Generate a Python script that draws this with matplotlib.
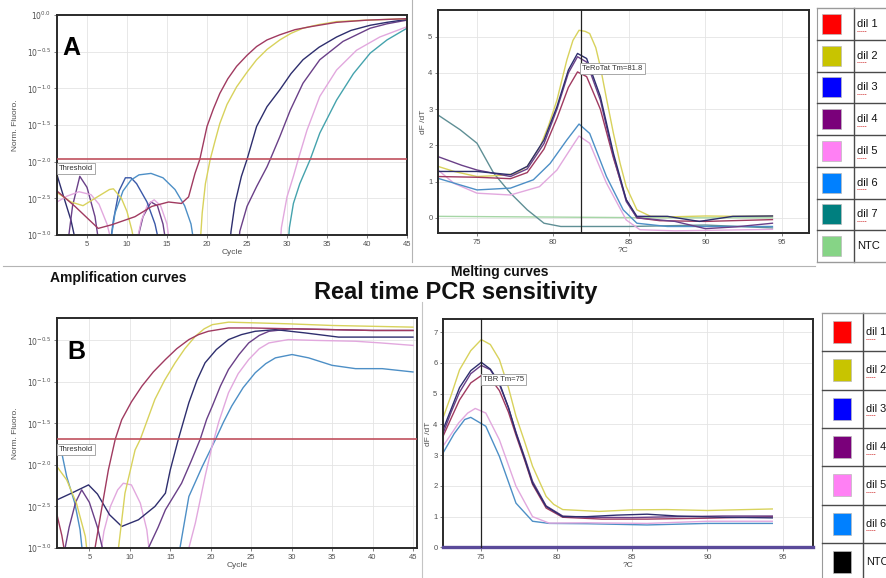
import numpy as np
import matplotlib
matplotlib.use('Agg')
import matplotlib.pyplot as plt
from matplotlib.patches import Rectangle
from matplotlib.ticker import NullLocator

W, H = 887, 578
plt.rcParams['font.family'] = ['Liberation Sans', 'DejaVu Sans']
NARROW = ['Liberation Sans Narrow', 'Liberation Sans', 'DejaVu Sans']

# ---------------- data ----------------
# Panel A, amplification: cycle vs log10(norm. fluoro)
a_dil1_cyc = [1.25, 3.5, 6.4, 8.1, 11, 13.1, 15.2, 16.8, 17.7, 18.5, 19.1, 20, 20.8, 21.6, 22.6,
              23.7, 25, 26.2, 27.5, 29.1, 31, 32.9, 36.2, 40, 45]
a_dil1_log = [-2.4, -2.61, -2.91, -2.86, -2.75, -2.61, -2.55, -2.57, -2.48, -2.16, -1.97, -1.52,
              -1.28, -1.07, -0.87, -0.7, -0.55, -0.43, -0.34, -0.27, -0.2, -0.16, -0.1, -0.07, -0.05]
a_dil2_cyc = [1.25, 3, 4.5, 6, 7.8, 8.3, 9.3, 10, 10.6, 11.1, np.nan,
              19.1, 19.4, 19.8, 20.4, 21, 21.6, 22.5, 23.7, 25, 26.2, 27.5, 29.1, 30.5, 32, 34, 36.2, 40, 45]
a_dil2_log = [-2.42, -2.55, -2.6, -2.5, -2.38, -2.37, -2.5, -2.68, -2.93, -3.2, np.nan,
              -3.2, -2.7, -2.3, -1.97, -1.72, -1.48, -1.22, -0.98, -0.78, -0.61, -0.47, -0.34, -0.25,
              -0.18, -0.13, -0.09, -0.07, -0.05]
a_dil3_cyc = [22.8, 23, 23.5, 24.3, 25, 26.2, 27.5, 29.1, 30.5, 32, 34, 36.2, 38, 40.4, 42.5, 45]
a_dil3_log = [-3.2, -2.95, -2.57, -2.2, -1.97, -1.52, -1.25, -1.02, -0.8, -0.61, -0.44, -0.3,
              -0.21, -0.14, -0.1, -0.06]
a_dil4_cyc = [23.9, 24.1, 25, 26.2, 27.5, 27.9, 29.1, 30.4, 32, 34.1, 37, 40.4, 42.5, 45]
a_dil4_log = [-3.2, -2.95, -2.61, -2.34, -2.07, -1.97, -1.66, -1.3, -0.93, -0.61, -0.36, -0.18,
              -0.12, -0.07]
a_dil5_cyc = [29.1, 29.3, 30, 30.8, 31.4, 32.5, 34.1, 36.2, 38.7, 41.6, 45]
a_dil5_log = [-3.2, -2.9, -2.48, -2.2, -1.97, -1.57, -1.11, -0.75, -0.48, -0.3, -0.16]
a_dil7_cyc = [30.1, 30.3, 30.8, 31.6, 32.9, 34.1, 36.2, 38.3, 40.4, 42.5, 45]
a_dil7_log = [-3.2, -2.9, -2.57, -2.3, -1.97, -1.61, -1.16, -0.8, -0.52, -0.34, -0.18]
# background wiggles below threshold
a_bg_navy_cyc = [1.25, 2, 3, 3.8]
a_bg_navy_log = [-2.18, -2.45, -2.8, -3.2]
a_bg_purple_cyc = [2.5, 3.2, 4.1, 5, 6, 6.6, np.nan, 11, 12, 13, 13.8, 14.5, 15]
a_bg_purple_log = [-3.2, -2.6, -2.2, -2.35, -2.75, -3.2, np.nan, -3.2, -2.75, -2.55, -2.6, -2.85, -3.2]
a_bg_pink_cyc = [1.25, 2.5, 4, 5.5, 6.5, 7.5, 8.3, np.nan, 11, 11.8, 12.6, 13.4, 14.2, 15, 15.4]
a_bg_pink_log = [-2.55, -2.47, -2.41, -2.45, -2.58, -2.85, -3.2, np.nan,
                 -3.2, -2.8, -2.58, -2.52, -2.6, -2.85, -3.2]
a_bg_blue_cyc = [7.8, 8.3, 9, 9.8, 10.5, 11.2, 12.5, 13.5, 14.2]
a_bg_blue_log = [-3.2, -2.8, -2.4, -2.22, -2.22, -2.3, -2.55, -2.85, -3.2]
a_bg_lblue_cyc = [7.8, 8.5, 9.5, 10.5, 11.5, 13, 14.5, 16, 17.2, 18, 18.5]
a_bg_lblue_log = [-3.2, -2.7, -2.4, -2.25, -2.18, -2.16, -2.22, -2.38, -2.6, -2.85, -3.2]
a_threshold = -1.97

# Panel B, amplification
b_dil1_cyc = [5.5, 5.7, 6.5, 7.35, 8.2, 9.0, 10.2, 11.5, 12.9, 14.4, 15.8, 17.3, 18.5, 19.7,
              22.2, 25, 30, 35, 40, 45]
b_dil1_log = [-3.2, -3.0, -2.54, -2.06, -1.69, -1.455, -1.24, -1.05, -0.88, -0.73, -0.6, -0.49,
              -0.43, -0.39, -0.35, -0.35, -0.36, -0.37, -0.38, -0.38]
b_dil2_cyc = [1.0, 2.2, 3.4, 4.5, 4.9, np.nan, 8.4, 8.6, 9.4, 10.65, 11.3, 12.2, 13.1, 14.3,
              15.6, 16.8, 18.1, 19.2, 20.2, 22.2, 26, 29.6, 35, 40, 45]
b_dil2_log = [-2.02, -2.18, -2.46, -2.86, -3.2, np.nan, -3.2, -3.0, -2.34, -1.82, -1.69, -1.45,
              -1.21, -0.98, -0.77, -0.6, -0.45, -0.36, -0.31, -0.28, -0.29, -0.3, -0.32, -0.33, -0.34]
b_dil3_cyc = [1.0, 3, 4.9, 6, 7.5, 9.0, 11.07, 13.1, 14.4, 15.0, 16.0, 17.3, 18.3, 19.3, 20.7,
              22.2, 23.8, 25.5, 28, 31.7, 35.8, 40, 45]
b_dil3_log = [-2.42, -2.33, -2.24, -2.35, -2.6, -2.74, -2.66, -2.5, -2.34, -2.06, -1.69, -1.25,
              -0.98, -0.77, -0.61, -0.49, -0.43, -0.39, -0.37, -0.41, -0.46, -0.46, -0.46]
b_dil4_cyc = [1.6, 2.5, 3.3, 4.05, 5, 6, 7.1, np.nan, 12.1, 12.3, 13.5, 14.4, 15.4, 16.4, 17.6,
              18.7, 19.5, 20.2, 21.2, 22.2, 23.5, 24.7, 26, 27.2, 30, 35, 40, 45]
b_dil4_log = [-3.2, -2.75, -2.45, -2.3, -2.45, -2.75, -3.2, np.nan, -3.2, -3.0, -2.75, -2.54,
              -2.38, -2.22, -1.95, -1.69, -1.45, -1.29, -1.05, -0.85, -0.67, -0.53, -0.44, -0.39,
              -0.36, -0.37, -0.38, -0.38]
b_dil5_cyc = [6.2, 6.8, 7.6, 8.5, 9.2, 10.2, 11.3, 12.1, 12.6, np.nan, 17.1, 17.3, 18.1, 19.3,
              20.1, 21, 22.2, 23.4, 24.7, 26, 27.2, 29.6, 33, 37.9, 41, 45]
b_dil5_log = [-3.2, -2.8, -2.5, -2.3, -2.22, -2.24, -2.46, -2.78, -3.2, np.nan, -3.2, -3.0, -2.7,
              -2.14, -1.8, -1.48, -1.13, -0.9, -0.73, -0.6, -0.53, -0.49, -0.5, -0.51, -0.53, -0.56]
b_dil6_cyc = [1.0, 1.6, 2.2, 3.2, 3.85, 4.3, np.nan, 16.0, 16.2, 17.3, 18.95, 20.6, 21.6, 22.6,
              24, 25.5, 26.8, 28, 30.05, 32.1, 35, 37.9, 41.2, 45]
b_dil6_log = [-1.8, -1.86, -2.14, -2.46, -2.78, -3.2, np.nan, -3.2, -3.0, -2.38, -2.02, -1.69,
              -1.48, -1.29, -1.07, -0.89, -0.78, -0.71, -0.67, -0.71, -0.8, -0.84, -0.84, -0.88]
b_bg_red_cyc = [1.0, 1.6, 2.2]
b_bg_red_log = [-2.6, -2.85, -3.2]
b_threshold = -1.69

# Panel A, melting: temperature vs dF/dT
ma_dil1_t = [72.44, 75, 77.2, 78.3, 79.4, 80.25, 81.0, 81.6, 82.2, 83.1, 83.96, 84.8, 85.5, 87, 90, 94.4]
ma_dil1_v = [1.14, 1.12, 1.08, 1.25, 1.9, 2.75, 3.6, 4.03, 3.9, 3.0, 1.65, 0.5, 0.0, -0.08, -0.1, -0.05]
ma_dil2_t = [72.44, 73.5, 75, 76.5, 77.5, 78.3, 79.15, 79.7, 80.25, 80.9, 81.3, 81.7, 82.1, 82.4,
             82.8, 83.1, 83.5, 83.96, 84.4, 84.8, 85.5, 86.4, 88, 90, 92, 94.4]
ma_dil2_v = [1.42, 1.28, 1.14, 1.17, 1.22, 1.42, 1.97, 2.55, 3.25, 4.36, 4.9, 5.18, 5.15, 5.09,
             4.7, 4.17, 3.3, 2.33, 1.5, 0.86, 0.22, 0.04, 0.03, 0.05, 0.04, 0.05]
ma_dil3_t = [72.44, 75, 77.2, 78.3, 79.4, 80.25, 81.0, 81.6, 82.2, 83.1, 83.96, 84.8, 85.5, 87.5, 89.6, 91.8, 94.4]
ma_dil3_v = [1.28, 1.28, 1.19, 1.42, 2.15, 3.07, 4.08, 4.54, 4.4, 3.35, 1.78, 0.5, 0.04, 0.04, -0.1, 0.04, 0.05]
ma_dil4_t = [72.44, 74, 75, 77.2, 78.3, 79.4, 80.25, 81.0, 81.6, 82.2, 83.1, 83.96, 84.8, 85.5, 88, 90, 92, 94.4]
ma_dil4_v = [1.69, 1.45, 1.32, 1.14, 1.35, 2.05, 3.0, 4.0, 4.45, 4.3, 3.25, 1.7, 0.45, 0.0, -0.1, -0.3, -0.25, -0.15]
ma_dil5_t = [72.44, 73.5, 75, 77.2, 79.1, 80.25, 81.1, 81.7, 82.4, 83.5, 84.8, 85.7, 88, 94.4]
ma_dil5_v = [1.32, 0.95, 0.68, 0.63, 0.86, 1.32, 1.875, 2.26, 2.06, 0.96, -0.06, -0.33, -0.36, -0.32]
ma_dil6_t = [72.44, 75, 77.2, 78.7, 79.8, 80.9, 81.7, 82.4, 83.5, 84.6, 85.5, 87.5, 94.4]
ma_dil6_v = [1.09, 0.77, 0.82, 1.05, 1.5, 2.15, 2.59, 2.33, 1.14, 0.22, -0.15, -0.24, -0.24]
ma_dil7_t = [72.44, 73.9, 75, 76.1, 77.2, 78.3, 79.4, 80.5, 85, 90, 94.4]
ma_dil7_v = [2.84, 2.43, 2.06, 1.23, 0.68, 0.22, -0.15, -0.24, -0.24, -0.2, -0.28]
ma_ntc_t = [72.44, 80, 87, 94.4]
ma_ntc_v = [0.04, 0.02, 0.0, 0.0]
ma_tm = 81.8

# Panel B, melting
mb_dil1_t = [72.46, 73.0, 73.56, 74.3, 75, 75.6, 76.2, 76.8, 77.3, 77.9, 78.4, 79.3, 80.4, 83, 86, 90, 94.3]
mb_dil1_v = [3.61, 4.2, 4.8, 5.35, 5.59, 5.5, 5.1, 4.4, 3.65, 2.8, 2.05, 1.28, 0.98, 0.92, 0.92, 0.95, 1.0]
mb_dil2_t = [72.46, 73.0, 73.56, 74.3, 75, 75.6, 76.2, 76.8, 77.3, 77.9, 78.4, 79.3, 79.8, 80.4,
             82.8, 85, 87.3, 90, 94.3]
mb_dil2_v = [4.21, 4.95, 5.78, 6.4, 6.76, 6.6, 6.11, 5.2, 4.27, 3.4, 2.64, 1.66, 1.4, 1.23,
             1.17, 1.22, 1.23, 1.2, 1.25]
mb_dil3_t = [72.46, 73.0, 73.56, 74.3, 75, 75.6, 76.2, 76.8, 77.3, 77.9, 78.4, 79.3, 80.4, 82, 84,
             86, 88, 91, 94.3]
mb_dil3_v = [3.83, 4.5, 5.2, 5.75, 6.02, 5.8, 5.35, 4.55, 3.72, 2.85, 2.09, 1.33, 1.0, 1.0, 1.05,
             1.08, 1.02, 0.98, 0.96]
mb_dil4_t = [72.46, 73.0, 73.56, 74.3, 75, 75.6, 76.2, 76.8, 77.3, 77.9, 78.4, 79.3, 80.4, 82, 85,
             88, 91, 94.3]
mb_dil4_v = [3.7, 4.4, 5.05, 5.65, 5.92, 5.78, 5.3, 4.55, 3.75, 2.9, 2.15, 1.35, 1.02, 0.98, 0.97,
             1.0, 1.02, 1.02]
mb_dil5_t = [72.46, 73.5, 74.1, 74.6, 75.3, 76.2, 77.3, 78.4, 79.5, 82, 86, 90, 94.3]
mb_dil5_v = [3.29, 4.05, 4.37, 4.52, 4.37, 3.5, 1.99, 1.0, 0.79, 0.8, 0.78, 0.85, 0.85]
mb_dil6_t = [72.46, 73.2, 73.9, 74.3, 75.3, 76.2, 77.3, 78.4, 79.5, 82, 86, 90, 94.3]
mb_dil6_v = [3.07, 3.7, 4.16, 4.23, 3.94, 2.96, 1.44, 0.85, 0.78, 0.77, 0.73, 0.78, 0.78]
mb_ntc_t = [72.46, 97.0]
mb_ntc_v = [0.0, 0.0]
mb_tm = 75.0

legend_a_labels = ['dil 1', 'dil 2', 'dil 3', 'dil 4', 'dil 5', 'dil 6', 'dil 7', 'NTC']
legend_a_colors = ['#ff0000', '#c8c400', '#0000ff', '#7a007a', '#ff80f4', '#0080ff', '#007f7f', '#86d486']
legend_b_labels = ['dil 1', 'dil 2', 'dil 3', 'dil 4', 'dil 5', 'dil 6', 'NTC']
legend_b_colors = ['#ff0000', '#c8c400', '#0000ff', '#7a007a', '#ff80f4', '#0080ff', '#000000']

# trace colours as they look in the (washed out) screenshot
C = {
    'dil1': '#a03a60', 'dil2': '#d8d25c', 'dil3': '#2e2e6e', 'dil4': '#6a4088',
    'dil5': '#e2a8de', 'dil6': '#4d8fc6', 'dil7': '#45a3ad', 'ntc': '#a6d6a6',
    'grey': '#5f8f95',
}
TICK_C = '#505050'


def rect(l, t, r, b):
    return [l / W, 1 - b / H, (r - l) / W, (b - t) / H]


def style_axes(ax):
    for s in ax.spines.values():
        s.set_color('#2a2a2a')
        s.set_linewidth(1.4)
    ax.grid(True, color='#e4e4e4', linewidth=0.6)
    ax.set_axisbelow(True)
    ax.tick_params(labelsize=5.5, colors=TICK_C, length=2, width=0.5, pad=2)


def amp_axes(box, ylo, yhi, xlo, xhi, threshold, letter, letter_x):
    ax = fig.add_axes(rect(*box))
    ax.set_yscale('log')
    ax.set_xlim(xlo, xhi)
    ax.set_ylim(10 ** ylo, 10 ** yhi)
    exps = [e for e in [0.0, -0.5, -1.0, -1.5, -2.0, -2.5, -3.0] if ylo <= e <= yhi]
    ax.set_yticks([10 ** e for e in exps])
    ax.set_yticklabels([r'$10^{%.1f}$' % e for e in exps], fontsize=5.5)
    ax.yaxis.set_minor_locator(NullLocator())
    ax.set_xticks([5, 10, 15, 20, 25, 30, 35, 40, 45])
    style_axes(ax)
    ax.axhline(10 ** threshold, color='#c0505e', lw=1.2, zorder=3)
    ax.text(0.006, 10 ** (threshold - 0.08), 'Threshold', transform=ax.get_yaxis_transform(),
            fontsize=5.5, va='top', ha='left', color='#333333',
            bbox=dict(boxstyle='square,pad=0.25', fc='white', ec='#9a9a9a', lw=0.6), zorder=4)
    ax.text(letter_x, 0.905, letter, transform=ax.transAxes, fontsize=18, fontweight='bold',
            va='top', ha='left', color='black', zorder=5)
    ax.set_xlabel('Cycle', fontsize=6, color=TICK_C, labelpad=1)
    ax.set_ylabel('Norm. Fluoro.', fontsize=6, color=TICK_C, labelpad=6)
    return ax


def melt_axes(box, xlim, ylim, yticks, tm, tm_label, label_y):
    ax = fig.add_axes(rect(*box))
    ax.set_xlim(*xlim)
    ax.set_ylim(*ylim)
    ax.set_xticks([75, 80, 85, 90, 95])
    ax.set_yticks(yticks)
    style_axes(ax)
    ax.axvline(tm, color='#222222', lw=0.9, zorder=4)
    ax.text(tm + 0.12, label_y, tm_label, fontsize=5.5, va='center', ha='left', color='#333333',
            bbox=dict(boxstyle='square,pad=0.25', fc='white', ec='#9a9a9a', lw=0.6), zorder=5)
    ax.set_xlabel('?C', fontsize=6, color=TICK_C, labelpad=1)
    ax.set_ylabel('dF /dT', fontsize=6, color=TICK_C, labelpad=1)
    return ax


def lp(ax, x, logy, color, lw=1.0):
    ax.plot(x, 10 ** np.array(logy, dtype=float), color=color, lw=lw, zorder=2)


fig = plt.figure(figsize=(W / 100, H / 100), dpi=100)
fig.patch.set_facecolor('white')

# ---------- A: amplification ----------
ax = amp_axes((57, 15, 407, 235), -3.0, 0.0, 1.25, 45, a_threshold, 'A', 0.015)
lp(ax, a_bg_navy_cyc, a_bg_navy_log, C['dil3'])
lp(ax, a_bg_purple_cyc, a_bg_purple_log, C['dil4'])
lp(ax, a_bg_pink_cyc, a_bg_pink_log, C['dil5'])
lp(ax, a_bg_blue_cyc, a_bg_blue_log, '#3a58a8')
lp(ax, a_bg_lblue_cyc, a_bg_lblue_log, C['dil6'])
lp(ax, a_dil7_cyc, a_dil7_log, C['dil7'])
lp(ax, a_dil5_cyc, a_dil5_log, C['dil5'])
lp(ax, a_dil4_cyc, a_dil4_log, C['dil4'])
lp(ax, a_dil3_cyc, a_dil3_log, C['dil3'])
lp(ax, a_dil2_cyc, a_dil2_log, C['dil2'])
lp(ax, a_dil1_cyc, a_dil1_log, C['dil1'])

# ---------- A: melting ----------
ax = melt_axes((438, 10, 809, 233), (72.44, 96.8), (-0.42, 5.74), [0, 1, 2, 3, 4, 5],
               ma_tm, 'TeRoTat Tm=81.8', 4.12)
ax.plot(ma_ntc_t, ma_ntc_v, color=C['ntc'], lw=1.0)
ax.plot(ma_dil7_t, ma_dil7_v, color=C['grey'], lw=1.0)
ax.plot(ma_dil5_t, ma_dil5_v, color=C['dil5'], lw=1.0)
ax.plot(ma_dil6_t, ma_dil6_v, color=C['dil6'], lw=1.0)
ax.plot(ma_dil2_t, ma_dil2_v, color=C['dil2'], lw=1.0)
ax.plot(ma_dil1_t, ma_dil1_v, color=C['dil1'], lw=1.0)
ax.plot(ma_dil4_t, ma_dil4_v, color=C['dil4'], lw=1.0)
ax.plot(ma_dil3_t, ma_dil3_v, color=C['dil3'], lw=1.0)

# ---------- B: amplification ----------
ax = amp_axes((57, 318, 417, 548), -3.0, -0.23, 1.0, 45.5, b_threshold, 'B', 0.03)
lp(ax, b_bg_red_cyc, b_bg_red_log, C['dil1'])
lp(ax, b_dil6_cyc, b_dil6_log, C['dil6'])
lp(ax, b_dil5_cyc, b_dil5_log, C['dil5'])
lp(ax, b_dil4_cyc, b_dil4_log, C['dil4'])
lp(ax, b_dil3_cyc, b_dil3_log, C['dil3'])
lp(ax, b_dil2_cyc, b_dil2_log, C['dil2'])
lp(ax, b_dil1_cyc, b_dil1_log, C['dil1'])

# ---------- B: melting ----------
ax = melt_axes((443, 319, 813, 548), (72.46, 97.0), (-0.02, 7.43), [0, 1, 2, 3, 4, 5, 6, 7],
               mb_tm, 'TBR Tm=75', 5.46)
ax.plot(mb_ntc_t, mb_ntc_v, color='#5a4a9a', lw=2.4, zorder=3, clip_on=False)
ax.plot(mb_dil6_t, mb_dil6_v, color=C['dil6'], lw=1.0)
ax.plot(mb_dil5_t, mb_dil5_v, color=C['dil5'], lw=1.0)
ax.plot(mb_dil2_t, mb_dil2_v, color=C['dil2'], lw=1.0)
ax.plot(mb_dil1_t, mb_dil1_v, color=C['dil1'], lw=1.0)
ax.plot(mb_dil4_t, mb_dil4_v, color=C['dil4'], lw=1.0)
ax.plot(mb_dil3_t, mb_dil3_v, color=C['dil3'], lw=1.0)

# ---------- overlay: separators, legends, titles (pixel units) ----------
ov = fig.add_axes([0, 0, 1, 1], zorder=-1)
ov.set_xlim(0, W)
ov.set_ylim(H, 0)
ov.axis('off')

ov.plot([412, 412], [0, 262], color='#b4b4b4', lw=0.8)
ov.plot([3, 815], [266, 266], color='#b4b4b4', lw=0.8)
ov.plot([422, 422], [302, 578], color='#c4c4c4', lw=0.8)


def legend_table(left, divider, top, row_h, labels, colors, sw, fs, right=887):
    n = len(labels)
    line_c = '#4a4a4a'
    ov.plot([left, left], [top, top + n * row_h], color='#9a9a9a', lw=0.8)
    ov.plot([divider, divider], [top, top + n * row_h], color=line_c, lw=1.0)
    for i in range(n + 1):
        y = top + i * row_h
        ov.plot([left, right], [y, y], color=line_c if 0 < i < n else '#9a9a9a', lw=1.0)
    for i, (lab, col) in enumerate(zip(labels, colors)):
        y0 = top + i * row_h
        sx0, sx1, sh = sw
        ov.add_patch(Rectangle((sx0, y0 + (row_h - sh) / 2), sx1 - sx0, sh,
                               facecolor=col, edgecolor='#bbbbbb', lw=0.5))
        ov.text(divider + 3, y0 + row_h / 2, lab, fontsize=fs, va='center', ha='left',
                color='#111111')
        if lab.startswith('dil'):
            ov.plot([divider + 3, divider + 12], [y0 + row_h / 2 + fs * 0.85] * 2,
                    color='#d03030', lw=0.7, ls=(0, (1, 1)))


legend_table(817, 854, 8, 31.75, legend_a_labels, legend_a_colors, (822, 841, 20), 8)
legend_table(822, 863, 313, 38.3, legend_b_labels, legend_b_colors, (833, 851, 22), 7.8)

ov.text(118, 278, 'Amplification curves', fontsize=10, fontweight='bold', family=NARROW,
        ha='center', va='center', color='#111111')
ov.text(500, 272, 'Melting curves', fontsize=10, fontweight='bold', family=NARROW,
        ha='center', va='center', color='#111111')
ov.text(456, 293, 'Real time PCR sensitivity', fontsize=17, fontweight='bold', family=NARROW,
        ha='center', va='center', color='#111111')

fig.savefig('out.png', dpi=100, facecolor='white')
